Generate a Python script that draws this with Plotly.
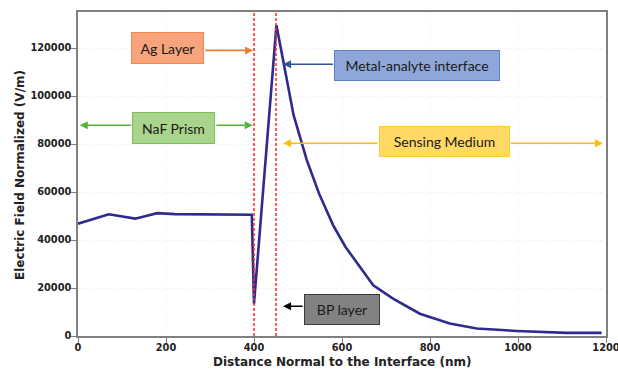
import plotly.graph_objects as go

# Data
distance_nm = [0, 70, 130, 180, 220, 395, 400, 451, 490, 520, 548, 580, 608, 671, 716, 777, 845, 906, 997, 1111, 1190]
field_vm = [46800, 50700, 48900, 51200, 50800, 50500, 13500, 129500, 92000, 73300, 59300, 46100, 37100, 21100, 15600, 9300, 5200, 3100, 2100, 1300, 1300]

interfaces_nm = [400, 450]

x_ticks = [0, 200, 400, 600, 800, 1000, 1200]
y_ticks = [0, 20000, 40000, 60000, 80000, 100000, 120000]

W, H = 618, 369
ML, MR, MT, MB = 78, 12, 12, 33

fig = go.Figure()
fig.add_trace(go.Scatter(x=distance_nm, y=field_vm, mode="lines",
                         line=dict(color="#2E2A8E", width=2.6), showlegend=False))

for xv in interfaces_nm:
    fig.add_shape(type="line", x0=xv, x1=xv, y0=0, y1=135000, xref="x", yref="y",
                  line=dict(color="#FF2A2A", width=1.5, dash="3px,2px"), layer="above")

ann = []
def arrow(x_head, x_tail, y, color):
    ann.append(dict(x=x_head, y=y, ax=x_tail, ay=y, xref="x", yref="y", axref="x", ayref="y",
                    text="", showarrow=True, arrowhead=2, arrowsize=1, arrowwidth=1.6,
                    arrowcolor=color, standoff=0, startstandoff=0))

def box(x, y, w, h, text, fill, border):
    ann.append(dict(x=x, y=y, xref="x", yref="y", text=text, showarrow=False,
                    width=w, height=h, bgcolor=fill, bordercolor=border, borderwidth=1,
                    borderpad=0, font=dict(family="Lato", size=14, color="#1a1a1a"),
                    xanchor="center", yanchor="middle"))

# arrows
arrow(398, 286, 119000, "#ED7D31")
arrow(4, 124, 87800, "#55B33A")
arrow(397, 311, 87800, "#55B33A")
arrow(466, 583, 113200, "#2F5597")
arrow(466, 684, 80300, "#FFC000")
arrow(1193, 980, 80300, "#FFC000")
arrow(466, 514, 12400, "#000000")

# boxes
box(204.5, 119900, 71, 30, "Ag Layer", "#F7A37C", "#F0884F")
box(218, 86500, 81, 30, "NaF Prism", "#A9D48B", "#7CC055")
box(770, 112800, 164, 29, "Metal-analyte interface", "#8EA6D8", "#5B7FC8")
box(832, 81250, 129, 29, "Sensing Medium", "#FFD963", "#FFC83A")
box(599, 11000, 74, 29, "BP layer", "#828282", "#3a3a3a")

# axis titles
ann.append(dict(text="<b>Distance Normal to the Interface (nm)</b>", xref="paper", yref="paper",
                x=0.5, y=0, yshift=-26, xanchor="center", yanchor="middle",
                showarrow=False, font=dict(family="DejaVu Sans", size=12, color="#222222")))
ann.append(dict(text="<b>Electric Field Normalized (V/m)</b>", xref="paper", yref="paper",
                x=0, y=0.5, xshift=-58, yshift=-1, xanchor="center", yanchor="middle",
                textangle=-90, showarrow=False,
                font=dict(family="DejaVu Sans", size=12, color="#222222")))

fig.update_layout(
    width=W, height=H,
    margin=dict(l=ML, r=MR, t=MT, b=MB),
    paper_bgcolor="white", plot_bgcolor="white",
    annotations=ann,
    font=dict(family="DejaVu Sans", color="#222222"),
)
fig.update_xaxes(range=[0, 1200], tickvals=x_ticks, tickformat="d", ticks="outside", ticklen=5,
                 tickcolor="#808080", showline=True, linecolor="#808080", linewidth=1.5,
                 mirror=True, showgrid=True, gridcolor="#f3f3f3", griddash="dot",
                 zeroline=False, automargin=False, ticklabeloverflow="allow",
                 ticklabelstandoff=-4,
                 tickfont=dict(family="DejaVu Sans", size=9.8, color="#222222", weight="bold"))
fig.update_yaxes(range=[0, 135000], tickvals=y_ticks, tickformat="d", ticks="outside", ticklen=5,
                 tickcolor="#808080", showline=True, linecolor="#808080", linewidth=1.5,
                 mirror=True, showgrid=True, gridcolor="#f3f3f3", griddash="dot",
                 zeroline=False, automargin=False, ticklabelstandoff=-2,
                 tickfont=dict(family="DejaVu Sans", size=9.8, color="#222222", weight="bold"))

fig.write_html("out.html", config={"displayModeBar": False},
               post_script="document.body.style.margin='0';document.body.style.overflow='hidden';")
